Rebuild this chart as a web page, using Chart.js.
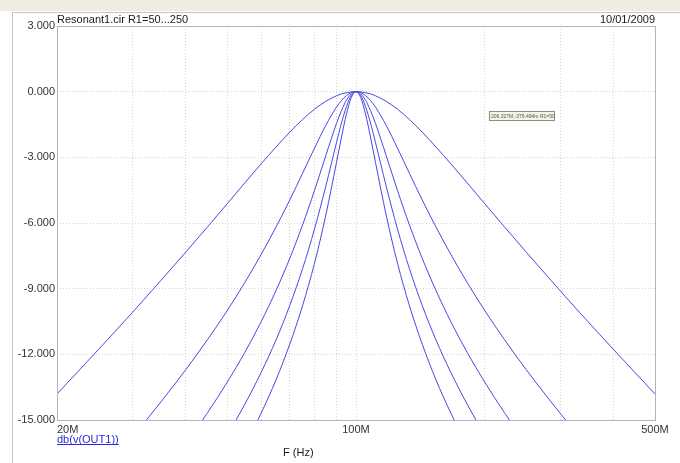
<!DOCTYPE html>
<html><head><meta charset="utf-8">
<script src="https://cdn.jsdelivr.net/npm/chart.js@4.4.0/dist/chart.umd.min.js"></script>
<style>html,body{margin:0;padding:0;background:#fff;overflow:hidden}#wrap{width:680px;height:463px;position:relative}</style>
</head><body><div id="wrap"><canvas id="c" width="680" height="463"></canvas></div>
<script>
// Frequencies in MHz
const freqMHz = [20,25,30,35,40,45,50,55,60,65,70,75,80,85,90,92.5,95,97.5,100,102.56,105.26,108.11,111.11,117.65,125,133.33,142.86,153.85,166.67,181.82,200,222.22,250,285.71,333.33,400,500];
// dB(v(OUT1)) for each R1 step
const dbR50  = [-13.81,-11.78,-10.09,-8.62,-7.33,-6.17,-5.12,-4.16,-3.30,-2.53,-1.85,-1.27,-0.80,-0.44,-0.19,-0.10,-0.05,-0.01,0,-0.01,-0.05,-0.10,-0.19,-0.44,-0.80,-1.27,-1.85,-2.53,-3.30,-4.16,-5.12,-6.17,-7.33,-8.62,-10.09,-11.78,-13.81];
const dbR100 = [-19.69,-17.58,-15.78,-14.17,-12.70,-11.32,-10.00,-8.71,-7.44,-6.19,-4.95,-3.73,-2.58,-1.54,-0.71,-0.40,-0.18,-0.04,0,-0.04,-0.18,-0.40,-0.71,-1.54,-2.58,-3.73,-4.95,-6.19,-7.44,-8.71,-10.00,-11.32,-12.70,-14.17,-15.78,-17.58,-19.69];
const dbR150 = [-23.19,-21.06,-19.23,-17.60,-16.09,-14.66,-13.27,-11.90,-10.51,-9.09,-7.62,-6.09,-4.51,-2.92,-1.46,-0.86,-0.39,-0.10,0,-0.10,-0.39,-0.86,-1.46,-2.92,-4.51,-6.09,-7.62,-9.09,-10.51,-11.90,-13.27,-14.66,-16.09,-17.60,-19.23,-21.06,-23.19];
const dbR200 = [-25.68,-23.54,-21.71,-20.07,-18.55,-17.10,-15.68,-14.27,-12.83,-11.35,-9.77,-8.09,-6.27,-4.32,-2.34,-1.43,-0.68,-0.17,0,-0.17,-0.68,-1.43,-2.34,-4.32,-6.27,-8.09,-9.77,-11.35,-12.83,-14.27,-15.68,-17.10,-18.55,-20.07,-21.71,-23.54,-25.68];
const dbR250 = [-27.61,-25.47,-23.64,-21.99,-20.46,-19.00,-17.58,-16.15,-14.69,-13.17,-11.54,-9.78,-7.83,-5.64,-3.25,-2.07,-1.02,-0.27,0,-0.27,-1.02,-2.07,-3.25,-5.64,-7.83,-9.78,-11.54,-13.17,-14.69,-16.15,-17.58,-19.00,-20.46,-21.99,-23.64,-25.47,-27.61];
const seriesNames = ['R1=50','R1=100','R1=150','R1=200','R1=250'];
const xGridMHz = [20,30,40,50,60,70,80,90,100,200,300,400,500];
const xTickLabels = {20:'       20M',100:'100M',500:'500M'};
const yMin = -15, yMax = 3, yStep = 3;
const titleText = 'Resonant1.cir R1=50...250';
const dateText = '10/01/2009';
const yAxisName = 'db(v(OUT1))';
const xAxisName = 'F (Hz)';
const tagText = '206.327M,-379.494m R1=50';

const FONT = '"Liberation Sans", Arial, sans-serif';
const allSeries = [dbR50, dbR100, dbR150, dbR200, dbR250];

const frame = {
  id: 'frame',
  beforeDraw(chart) {
    const ctx = chart.ctx;
    ctx.save();
    ctx.fillStyle = '#ffffff';
    ctx.fillRect(0, 0, chart.width, chart.height);
    ctx.fillStyle = '#efece3';
    ctx.fillRect(0, 0, chart.width, 11);
    ctx.strokeStyle = '#c4c4c4';
    ctx.lineWidth = 1;
    ctx.beginPath();
    ctx.moveTo(12, 12.5); ctx.lineTo(chart.width, 12.5);
    ctx.moveTo(12.5, 12); ctx.lineTo(12.5, chart.height);
    ctx.stroke();
    ctx.restore();
  },
  afterDraw(chart) {
    const ctx = chart.ctx;
    const a = chart.chartArea;
    ctx.save();
    ctx.strokeStyle = '#b4b4b4';
    ctx.lineWidth = 1;
    ctx.strokeRect(Math.round(a.left) + 0.5, Math.round(a.top) + 0.5, Math.round(a.right - a.left), Math.round(a.bottom - a.top));
    ctx.fillStyle = '#1a1a1a';
    ctx.font = '11px ' + FONT;
    ctx.textBaseline = 'alphabetic';
    ctx.textAlign = 'left';
    ctx.fillText(titleText, a.left, 23);
    ctx.textAlign = 'right';
    ctx.fillText(dateText, a.right, 23);
    ctx.textAlign = 'left';
    ctx.fillStyle = '#2a2ad8';
    ctx.fillText(yAxisName, a.left, 443);
    const w = ctx.measureText(yAxisName).width;
    ctx.fillRect(a.left, 444, w, 1);
    ctx.fillStyle = '#1a1a1a';
    ctx.fillText(xAxisName, 283, 456);
    // tag
    const xs = chart.scales.x;
    const ys = chart.scales.y;
    ctx.fillStyle = '#f6f4e4';
    ctx.strokeStyle = '#8c8c8c';
    ctx.fillRect(489, 111, 65, 9);
    ctx.strokeRect(489.5, 111.5, 65, 9);
    ctx.fillStyle = '#555';
    ctx.font = '5px ' + FONT;
    ctx.textAlign = 'left';
    ctx.fillText(tagText, 491, 118);
    ctx.restore();
  }
};

new Chart(document.getElementById('c'), {
  type: 'line',
  data: {
    datasets: allSeries.map((s, i) => ({
      label: seriesNames[i],
      data: freqMHz.map((f, k) => ({ x: f, y: s[k] })),
      borderColor: '#4848e6',
      borderWidth: 1,
      pointRadius: 0,
      fill: false,
      cubicInterpolationMode: 'monotone'
    }))
  },
  options: {
    responsive: false,
    animation: false,
    devicePixelRatio: 1,
    layout: { padding: { top: 26, right: 25, bottom: 0, left: 0 } },
    plugins: { legend: { display: false }, tooltip: { enabled: false }, title: { display: false } },
    scales: {
      x: {
        type: 'logarithmic',
        min: 20, max: 500,
        afterBuildTicks(scale) { scale.ticks = xGridMHz.map(v => ({ value: v })); },
        afterFit(scale) { scale.height = 43; },
        grid: { color: '#d4d4d4', drawTicks: false, borderDash: [1, 2] },
        border: { display: false, dash: [1, 2] },
        ticks: {
          autoSkip: false, maxRotation: 0, padding: 3,
          color: '#333', font: { family: FONT, size: 11 },
          callback: (v) => xTickLabels[v] || ''
        }
      },
      y: {
        min: yMin, max: yMax,
        afterFit(scale) { scale.width = 57; },
        grid: { color: '#d4d4d4', drawTicks: false, borderDash: [1, 2] },
        border: { display: false, dash: [1, 2] },
        ticks: {
          stepSize: yStep, padding: 2,
          color: '#333', font: { family: FONT, size: 11 },
          callback: (v) => v.toFixed(3)
        }
      }
    }
  },
  plugins: [frame]
});
</script></body></html>
